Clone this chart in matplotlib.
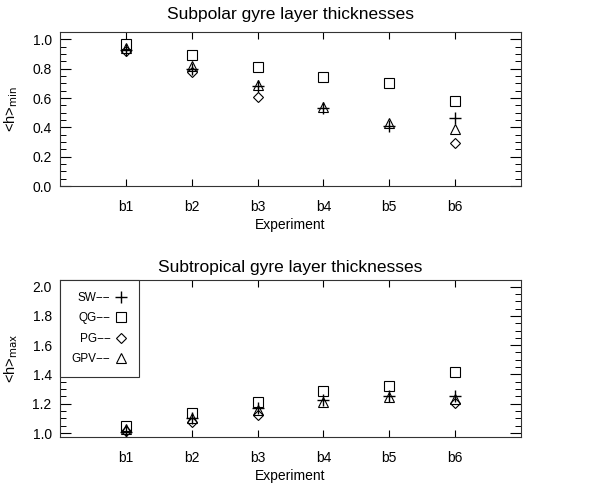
import numpy as np
import matplotlib
matplotlib.use("Agg")
import matplotlib.pyplot as plt
from matplotlib.lines import Line2D
from matplotlib.ticker import MultipleLocator, FormatStrFormatter

plt.rcParams["font.family"] = ["Liberation Sans", "DejaVu Sans"]

# experiments b1..b6
experiments = ["b1", "b2", "b3", "b4", "b5", "b6"]
xpos = np.arange(1, 7)

# subpolar gyre <h>_min
sp_sw = [0.93, 0.80, 0.68, 0.53, 0.41, 0.465]
sp_qg = [0.97, 0.89, 0.81, 0.74, 0.70, 0.58]
sp_pg = [0.92, 0.78, 0.61, np.nan, np.nan, 0.29]
sp_gpv = [0.94, 0.82, 0.69, 0.54, 0.43, 0.39]

# subtropical gyre <h>_max
st_sw = [1.01, 1.10, 1.17, 1.225, 1.25, 1.255]
st_qg = [1.05, 1.135, 1.21, 1.29, 1.32, 1.42]
st_pg = [1.015, 1.075, 1.125, np.nan, np.nan, 1.205]
st_gpv = [1.03, 1.10, 1.155, 1.21, 1.245, 1.235]

series_names = ["SW\u2212\u2212", "QG\u2212\u2212", "PG\u2212\u2212", "GPV\u2212\u2212"]
markers = [dict(marker="+", ms=9, mew=1.0),
           dict(marker="s", ms=7.5, mew=0.8, mfc="none"),
           dict(marker="D", ms=5.5, mew=0.8, mfc="none"),
           dict(marker="^", ms=7.5, mew=0.8, mfc="none")]

fig = plt.figure(figsize=(6.11, 4.87), dpi=100)
W, H = 611, 487
ax1 = fig.add_axes([60 / W, 1 - 186 / H, 461 / W, 154 / H])
ax2 = fig.add_axes([60 / W, 1 - 437 / H, 461 / W, 157 / H])


def style(ax, ylim, ylabel, title, title_pad):
    ax.set_xlim(0, 7)
    ax.set_ylim(*ylim)
    ax.set_xticks(xpos)
    ax.set_xticklabels(experiments)
    ax.yaxis.set_major_locator(MultipleLocator(0.2))
    ax.yaxis.set_minor_locator(MultipleLocator(0.05))
    ax.yaxis.set_major_formatter(FormatStrFormatter("%.1f"))
    ax.tick_params(axis="x", which="both", direction="in", top=True,
                   length=5, width=0.8, pad=10, labelsize=10)
    ax.tick_params(axis="y", which="major", direction="in", right=True,
                   length=8, width=0.8, pad=6, labelsize=10)
    ax.tick_params(axis="y", which="minor", direction="in", right=True,
                   length=4, width=0.7)
    for s in ax.spines.values():
        s.set_linewidth(0.8)
        s.set_color("#333333")
    ax.set_xlabel("Experiment", fontsize=10, labelpad=3)
    ax.set_ylabel(ylabel, fontsize=10.5, labelpad=9)
    ax.set_title(title, fontsize=12.5, pad=title_pad)


for vals, name, mk in zip([sp_sw, sp_qg, sp_pg, sp_gpv], series_names, markers):
    ax1.plot(xpos, vals, ls="none", color="black", mec="black", label=name, **mk)
style(ax1, (0.0, 1.05), r"<h>$_{\rm min}$", "Subpolar gyre layer thicknesses", 9)

for vals, name, mk in zip([st_sw, st_qg, st_pg, st_gpv], series_names, markers):
    ax2.plot(xpos, vals, ls="none", color="black", mec="black", label=name, **mk)
style(ax2, (0.973, 2.045), r"<h>$_{\rm max}$", "Subtropical gyre layer thicknesses", 6)

handles = [Line2D([], [], ls="none", color="black", mec="black", **mk) for mk in markers]
leg = ax2.legend(handles, series_names, loc="upper left", bbox_to_anchor=(0, 1),
                 borderaxespad=0, markerfirst=False, fancybox=False,
                 framealpha=1, edgecolor="#333333", fontsize=8.5,
                 handlelength=1.0, handletextpad=0.4, labelspacing=0.72,
                 borderpad=1.0)
leg.get_frame().set_linewidth(0.8)

fig.savefig("out.png", dpi=100)
